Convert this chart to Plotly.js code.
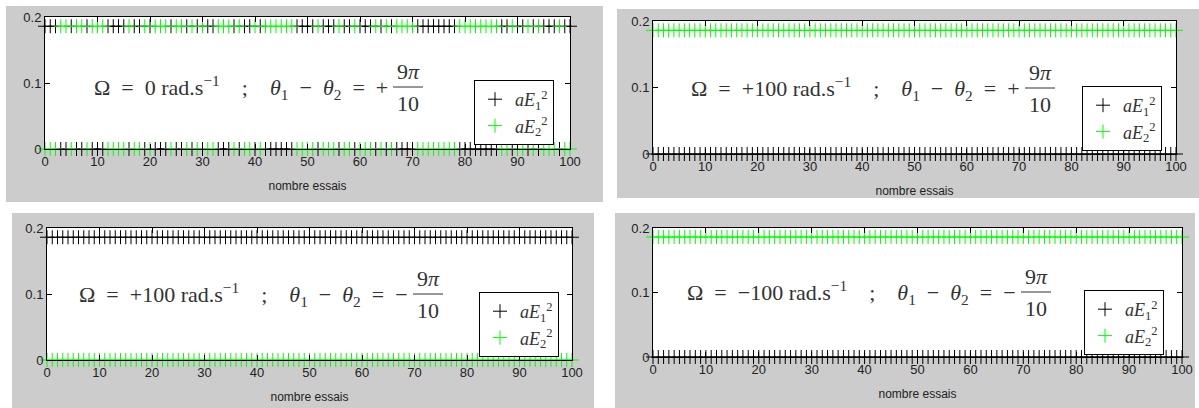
<!DOCTYPE html>
<html>
<head>
<meta charset="utf-8">
<script src="https://cdn.plot.ly/plotly-3.0.1.min.js"></script>
<style>
  html, body { margin: 0; padding: 0; background: #ffffff; }
  #plot { width: 1199px; height: 408px; }
</style>
</head>
<body>
<div id="plot"></div>
<script>
// trial numbers shown on the x axis
var trials = [];
for (var i = 0; i <= 100; i++) trials.push(i);

// level of the non-zero intensity
var highLevel = 0.186;

// top-left panel (Omega = 0): 1 = aE1 is high on that trial, 0 = aE2 is high
var omega0Pattern = [
  1, 1, 1, 0, 0, 1, 0, 0, 1, 0, 0,
  0, 1, 1, 1, 1, 0, 1, 1, 0, 1,
  0, 0, 0, 1, 0, 0, 1, 0, 1, 0,
  1, 1, 0, 0, 0, 1, 0, 1, 1, 0,
  1, 0, 0, 0, 0, 0, 0, 1, 1, 1,
  1, 0, 1, 1, 1, 0, 1, 1, 0, 1,
  1, 1, 0, 1, 0, 1, 0, 0, 0, 0,
  1, 1, 1, 1, 1, 1, 1, 1, 0, 0,
  0, 0, 0, 0, 0, 0, 1, 1, 0, 1,
  1, 0, 1, 0, 1, 1, 1, 0, 1, 1
];

var tlE1 = omega0Pattern.map(function(p) { return p ? highLevel : 0; });
var tlE2 = omega0Pattern.map(function(p) { return p ? 0 : highLevel; });

// other panels: every trial gives the same result
var trE1 = new Array(101).fill(0);
var trE2 = new Array(101).fill(highLevel);
var blE1 = new Array(101).fill(highLevel);
var blE2 = new Array(101).fill(0);
var brE1 = new Array(101).fill(0);
var brE2 = new Array(101).fill(highLevel);

var sp = '\u2002', big = '\u2003';
function condText(omega, sign) {
  return 'Ω' + sp + '=' + sp + omega + ' rad.s<sup>−1</sup>' + big + ';' + big +
    '<i>θ</i><sub>1</sub>' + sp + '−' + sp + '<i>θ</i><sub>2</sub>' + sp + '=' + sp + sign;
}
var panelTexts = [
  condText('0', '+'),
  condText('+100', '+'),
  condText('+100', '−'),
  condText('−100', '−')
];
var legendNames = ['<i>aE</i><sub>1</sub><sup>2</sup>', '<i>aE</i><sub>2</sub><sup>2</sup>'];

// pixel geometry of each panel: grey frame, axes box, fraction centre, legend corner
var W = 1199, H = 408;
var panels = [
  { frame: [6, 603, 6, 202],    box: [45, 570, 17, 149],   fracX: 408,  textY: 87,  leg: [474, 80],
    e1: tlE1, e2: tlE2 },
  { frame: [617, 1199, 9, 198], box: [653, 1176, 21, 154], fracX: 1040, textY: 88,  leg: [1082, 86],
    e1: trE1, e2: trE2 },
  { frame: [12, 594, 213, 408], box: [47, 572, 228, 360],  fracX: 428,  textY: 294, leg: [479, 292],
    e1: blE1, e2: blE2 },
  { frame: [615, 1195, 213, 408], box: [653, 1182, 228, 357], fracX: 1036, textY: 292, leg: [1084, 290],
    e1: brE1, e2: brE2 }
];

function fx(px) { return px / W; }
function fy(py) { return 1 - py / H; }

var data = [];
var shapes = [];
var annotations = [];
var layout = {
  width: W,
  height: H,
  margin: { l: 0, r: 0, t: 0, b: 0 },
  paper_bgcolor: '#ffffff',
  plot_bgcolor: '#ffffff',
  font: { family: 'Liberation Sans, Arial, sans-serif', size: 12, color: '#222' },
  showlegend: true
};

panels.forEach(function(p, k) {
  var n = k === 0 ? '' : String(k + 1);
  var legId = 'legend' + n;
  var mk = function(color) {
    return { symbol: 'cross-thin', size: 10, color: color, line: { color: color, width: 1 } };
  };
  data.push({
    x: trials, y: p.e1, xaxis: 'x' + n, yaxis: 'y' + n, type: 'scatter', mode: 'markers',
    name: legendNames[0], legend: legId, cliponaxis: false, marker: mk('#000000')
  });
  data.push({
    x: trials, y: p.e2, xaxis: 'x' + n, yaxis: 'y' + n, type: 'scatter', mode: 'markers',
    name: legendNames[1], legend: legId, cliponaxis: false, marker: mk('#00ff00')
  });

  var axStyle = {
    showline: true, linecolor: '#000', linewidth: 1, mirror: 'ticks',
    ticks: 'inside', ticklen: 5, tickcolor: '#000', showgrid: false, zeroline: false,
    tickfont: { family: 'Liberation Sans, Arial, sans-serif', size: 13, color: '#222' },
    fixedrange: true
  };
  layout['xaxis' + n] = Object.assign({}, axStyle, {
    domain: [fx(p.box[0]), fx(p.box[1])], anchor: 'y' + n,
    range: [0, 100], tickmode: 'linear', tick0: 0, dtick: 10,
    title: { text: 'nombre essais', font: { size: 12, color: '#222' }, standoff: 14 }
  });
  layout['yaxis' + n] = Object.assign({}, axStyle, {
    domain: [fy(p.box[3]), fy(p.box[2])], anchor: 'x' + n,
    range: [0, 0.2], tickmode: 'linear', tick0: 0, dtick: 0.1
  });

  layout[legId] = {
    x: fx(p.leg[0]), y: fy(p.leg[1]), xref: 'paper', yref: 'paper',
    xanchor: 'left', yanchor: 'top',
    bgcolor: '#ffffff', bordercolor: '#000', borderwidth: 1,
    font: { family: 'Liberation Serif, DejaVu Serif, serif', size: 18, color: '#333' },
    itemwidth: 30, tracegroupgap: 0
  };

  // grey figure background
  shapes.push({
    type: 'rect', xref: 'paper', yref: 'paper', layer: 'below',
    x0: fx(p.frame[0]), x1: fx(p.frame[1]), y0: fy(p.frame[3]), y1: fy(p.frame[2]),
    fillcolor: '#cccccc', line: { width: 0 }
  });
  // white axes area
  shapes.push({
    type: 'rect', xref: 'x' + n + ' domain', yref: 'y' + n + ' domain', layer: 'below',
    x0: 0, x1: 1, y0: 0, y1: 1, fillcolor: '#ffffff', line: { width: 0 }
  });

  var serif = { family: 'Liberation Serif, DejaVu Serif, serif', size: 22, color: '#333' };
  annotations.push({
    xref: 'paper', yref: 'paper', x: fx(p.fracX - 18), y: fy(p.textY),
    xanchor: 'right', yanchor: 'middle', showarrow: false, text: panelTexts[k], font: serif
  });
  annotations.push({
    xref: 'paper', yref: 'paper', x: fx(p.fracX), y: fy(p.textY - 1),
    xanchor: 'center', yanchor: 'bottom', showarrow: false, text: '9<i>π</i>', font: serif
  });
  annotations.push({
    xref: 'paper', yref: 'paper', x: fx(p.fracX), y: fy(p.textY + 2),
    xanchor: 'center', yanchor: 'top', showarrow: false, text: '10', font: serif
  });
  shapes.push({
    type: 'line', xref: 'paper', yref: 'paper',
    x0: fx(p.fracX - 15), x1: fx(p.fracX + 15), y0: fy(p.textY), y1: fy(p.textY),
    line: { color: '#333', width: 1 }
  });
});

layout.shapes = shapes;
layout.annotations = annotations;

Plotly.newPlot('plot', data, layout, { displayModeBar: false, staticPlot: true });
</script>
</body>
</html>
